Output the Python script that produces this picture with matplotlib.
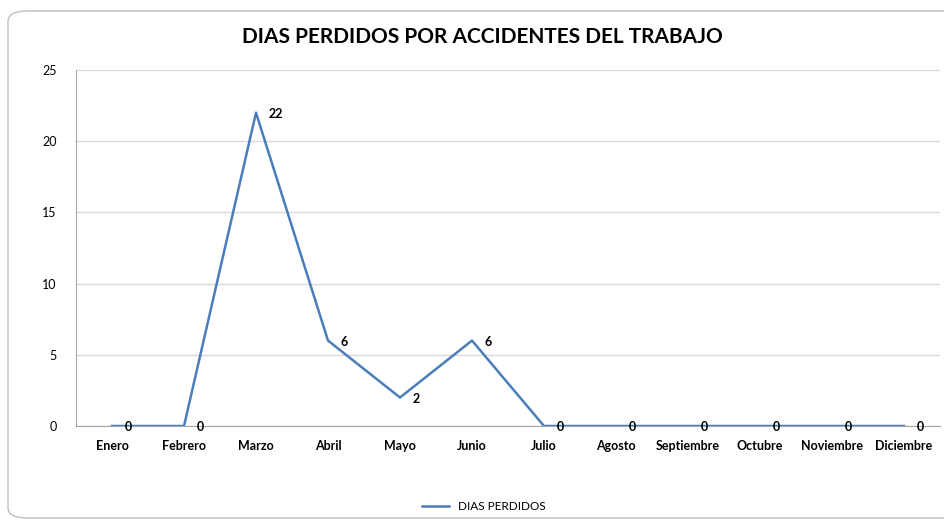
import matplotlib
matplotlib.use("Agg")
import matplotlib.pyplot as plt
from matplotlib.patches import FancyBboxPatch

months = ["Enero", "Febrero", "Marzo", "Abril", "Mayo", "Junio", "Julio",
          "Agosto", "Septiembre", "Octubre", "Noviembre", "Diciembre"]
dias_perdidos = [0, 0, 22, 6, 2, 6, 0, 0, 0, 0, 0, 0]
y_ticks = [0, 5, 10, 15, 20, 25]
series_name = "DIAS PERDIDOS"
title = "DIAS PERDIDOS POR ACCIDENTES DEL TRABAJO"

plt.rcParams['font.family'] = ['Lato', 'DejaVu Sans']

fig = plt.figure(figsize=(9.44, 5.21), dpi=100)
fig.patch.set_facecolor('white')

# chart frame
frame = FancyBboxPatch((8/944, 3/521), 960/944, 507/521,
                       boxstyle="round,pad=0,rounding_size=0.02",
                       transform=fig.transFigure, fill=False,
                       edgecolor='#BFBFBF', linewidth=1.0)
fig.add_artist(frame)

ax = fig.add_axes([76/944, 1-426/521, 864/944, (426-70)/521])
x = list(range(len(months)))
color = '#4A7EBB'
line, = ax.plot(x, dias_perdidos, color=color, linewidth=1.8, label=series_name)
ax.set_xlim(-0.5, len(months)-0.5)
ax.set_ylim(0, 25)
ax.set_yticks(y_ticks)
ax.set_yticklabels([str(v) for v in y_ticks], fontsize=9)
ax.set_xticks(x)
ax.set_xticklabels(months, fontsize=9, fontweight='bold')
ax.tick_params(axis='x', length=0, pad=10)
ax.tick_params(axis='y', length=0, pad=14)
ax.grid(axis='y', color='#D9D9D9', linewidth=1.0)
ax.set_axisbelow(True)
for s in ['top', 'right']:
    ax.spines[s].set_visible(False)
ax.spines['left'].set_color('#A6A6A6')
ax.spines['bottom'].set_color('#A6A6A6')

for xi, v in zip(x, dias_perdidos):
    ax.annotate(str(v), (xi, v), xytext=(9, -1), textcoords='offset points',
                ha='left', va='center', fontsize=9, fontweight='bold')

fig.text(482/944, 1-37/521, title, ha='center', va='center',
         fontsize=15, fontweight='bold')

fig.legend(handles=[line], loc='center', bbox_to_anchor=(484/944, 1-507/521),
           frameon=False, fontsize=8.5, handlelength=2.3)

fig.savefig("out.png", dpi=100)
